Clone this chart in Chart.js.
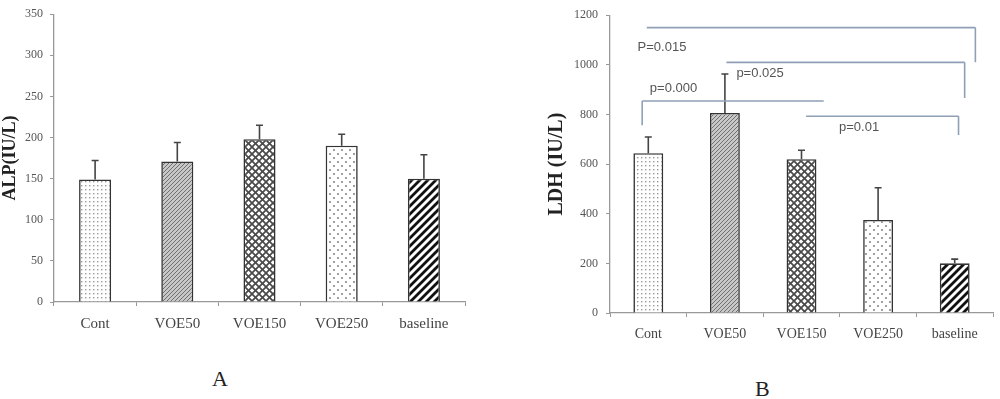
<!DOCTYPE html>
<html>
<head>
<meta charset="utf-8">
<script src="https://cdn.jsdelivr.net/npm/chart.js@4.4.0/dist/chart.umd.min.js"></script>
<style>
    body { margin: 0; background: #fff; }
    #wrap { position: relative; width: 1000px; height: 399px; overflow: hidden; }
    .panel { position: absolute; top: 0; width: 500px; height: 345px; }
    .tag { position: absolute; font-family: 'Liberation Serif', serif; font-size: 22px; color: #222; line-height: 1; }
</style>
</head>
<body>
<div id="wrap">
    <div class="panel" style="left:0"><canvas id="alpChart"></canvas></div>
    <div class="panel" style="left:500px"><canvas id="ldhChart"></canvas></div>
    <div class="tag" style="left:212px;top:368px">A</div>
    <div class="tag" style="left:755px;top:378px">B</div>
</div>
<script>
// data
const groups = ['Cont', 'VOE50', 'VOE150', 'VOE250', 'baseline'];
const alpMean = [149, 171, 198, 190, 150];
const alpSD = [23, 23, 17, 14, 29];
const ldhMean = [644, 806, 620, 375, 200];
const ldhSD = [65, 157, 36, 130, 17];
const alpTicks = { max: 350, step: 50 };
const ldhTicks = { max: 1200, step: 200 };

// significance brackets on panel B (x in category index, y in IU/L)
const pLabels = ['P=0.015', 'p=0.025', 'p=0.000', 'p=0.01'];
const pFrom = [-0.02, 1.02, -0.08, 2.06];
const pTo = [4.27, 4.13, 2.29, 4.05];
const pLevel = [1150, 1010, 854, 793];
const pDrop = [1010, 866, 757, 717];
const pDropSide = ['right', 'right', 'left', 'right'];
const pLabelX = [-0.14, 1.15, 0.02, 2.49];
const pLabelY = [1071, 967, 906, 749];

// fill patterns
function makeTile(size, draw) {
    const c = document.createElement('canvas');
    c.width = size; c.height = size;
    const g = c.getContext('2d');
    g.fillStyle = '#fff';
    g.fillRect(0, 0, size, size);
    draw(g, size);
    return document.createElement('canvas').getContext('2d').createPattern(c, 'repeat');
}

function diag(g, s, color, w) {
    g.strokeStyle = color;
    g.lineWidth = w;
    g.beginPath();
    g.moveTo(-1, s + 1); g.lineTo(s + 1, -1);
    g.moveTo(-1, 1); g.lineTo(1, -1);
    g.moveTo(s - 1, s + 1); g.lineTo(s + 1, s - 1);
    g.stroke();
}

function diagBack(g, s, color, w) {
    g.strokeStyle = color;
    g.lineWidth = w;
    g.beginPath();
    g.moveTo(-1, -1); g.lineTo(s + 1, s + 1);
    g.moveTo(s - 1, -1); g.lineTo(s + 1, 1);
    g.moveTo(-1, s - 1); g.lineTo(1, s + 1);
    g.stroke();
}

const patterns = [
    makeTile(4, (g) => { g.fillStyle = '#9a9a9a'; g.fillRect(1, 1, 1.4, 1.4); }),
    makeTile(4, (g, s) => { g.fillStyle = '#c8c8c8'; g.fillRect(0, 0, s, s); diag(g, s, '#6e6e6e', 1); }),
    makeTile(7, (g, s) => { diag(g, s, '#4a4a4a', 1.7); diagBack(g, s, '#4a4a4a', 1.7); }),
    makeTile(8, (g) => {
        g.fillStyle = '#8a8a8a';
        g.beginPath(); g.arc(2, 2, 1.1, 0, Math.PI * 2); g.fill();
        g.beginPath(); g.arc(6, 6, 1.1, 0, Math.PI * 2); g.fill();
    }),
    makeTile(8, (g, s) => diag(g, s, '#111', 2.8))
];

const errorBars = {
    id: 'errorBars',
    afterDatasetsDraw(chart, args, opts) {
        const { ctx, scales: { y } } = chart;
        const meta = chart.getDatasetMeta(0);
        const means = chart.data.datasets[0].data;
        ctx.save();
        ctx.strokeStyle = '#444';
        ctx.lineWidth = 1.6;
        meta.data.forEach((bar, i) => {
            const top = y.getPixelForValue(means[i] + opts.sd[i]);
            ctx.beginPath();
            ctx.moveTo(bar.x, y.getPixelForValue(means[i]));
            ctx.lineTo(bar.x, top);
            ctx.moveTo(bar.x - 3.5, top);
            ctx.lineTo(bar.x + 3.5, top);
            ctx.stroke();
        });
        ctx.restore();
    }
};

const brackets = {
    id: 'brackets',
    afterDraw(chart, args, opts) {
        if (!opts.show) return;
        const { ctx, scales: { x, y } } = chart;
        ctx.save();
        ctx.strokeStyle = '#8fa0b6';
        ctx.lineWidth = 1.6;
        pLabels.forEach((txt, i) => {
            const x1 = x.getPixelForValue(pFrom[i]);
            const x2 = x.getPixelForValue(pTo[i]);
            const yl = y.getPixelForValue(pLevel[i]);
            const yd = y.getPixelForValue(pDrop[i]);
            const xd = pDropSide[i] === 'right' ? x2 : x1;
            ctx.beginPath();
            ctx.moveTo(x1, yl);
            ctx.lineTo(x2, yl);
            ctx.moveTo(xd, yl);
            ctx.lineTo(xd, yd);
            ctx.stroke();
        });
        ctx.fillStyle = '#555';
        ctx.font = '13px "Liberation Sans", sans-serif';
        ctx.textBaseline = 'middle';
        pLabels.forEach((txt, i) => {
            ctx.fillText(txt, x.getPixelForValue(pLabelX[i]), y.getPixelForValue(pLabelY[i]));
        });
        ctx.restore();
    }
};

function buildChart(id, means, sd, ticks, title, cfg) {
    const ctx = document.getElementById(id).getContext('2d');
    return new Chart(ctx, {
        type: 'bar',
        data: {
            labels: groups,
            datasets: [{
                data: means,
                backgroundColor: patterns,
                borderColor: '#333',
                borderWidth: 1.6,
                borderSkipped: 'bottom',
                categoryPercentage: 1,
                barPercentage: 0.39
            }]
        },
        options: {
            responsive: true,
            maintainAspectRatio: false,
            animation: false,
            layout: {
                padding: { left: cfg.padLeft, right: cfg.padRight, top: cfg.padTop, bottom: 0 }
            },
            scales: {
                x: {
                    grid: { display: true, drawOnChartArea: false, tickLength: 4, color: '#999' },
                    border: { color: '#999', width: 1.3 },
                    ticks: {
                        color: '#444',
                        padding: 9,
                        font: { family: "'Liberation Serif', serif", size: cfg.xFont }
                    },
                    afterFit: (scale) => { scale.height = cfg.xHeight; }
                },
                y: {
                    min: 0,
                    max: ticks.max,
                    grid: { display: true, drawOnChartArea: false, tickLength: 4, color: '#999' },
                    border: { color: '#999', width: 1.3 },
                    ticks: {
                        stepSize: ticks.step,
                        color: '#555',
                        padding: cfg.tickPad,
                        font: { family: "'Liberation Serif', serif", size: 12 },
                        callback: (v) => String(v)
                    },
                    title: {
                        display: true,
                        text: title,
                        color: '#222',
                        padding: 0,
                        font: { family: "'Liberation Serif', serif", size: cfg.titleFont, weight: 'bold' }
                    },
                    afterFit: (scale) => { scale.width = cfg.yWidth; }
                }
            },
            plugins: {
                legend: { display: false },
                tooltip: { enabled: false },
                errorBars: { sd: sd },
                brackets: { show: cfg.brackets }
            }
        },
        plugins: [errorBars, brackets]
    });
}

buildChart('alpChart', alpMean, alpSD, alpTicks, 'ALP(IU/L)', {
    padLeft: 0, padRight: 35, padTop: 9, yWidth: 54, xHeight: 43,
    xFont: 15, titleFont: 18, tickPad: 7, brackets: false
});

buildChart('ldhChart', ldhMean, ldhSD, ldhTicks, 'LDH (IU/L)', {
    padLeft: 45, padRight: 7, padTop: 15, yWidth: 65, xHeight: 32,
    xFont: 14, titleFont: 20, tickPad: 8, brackets: true
});
</script>
</body>
</html>
